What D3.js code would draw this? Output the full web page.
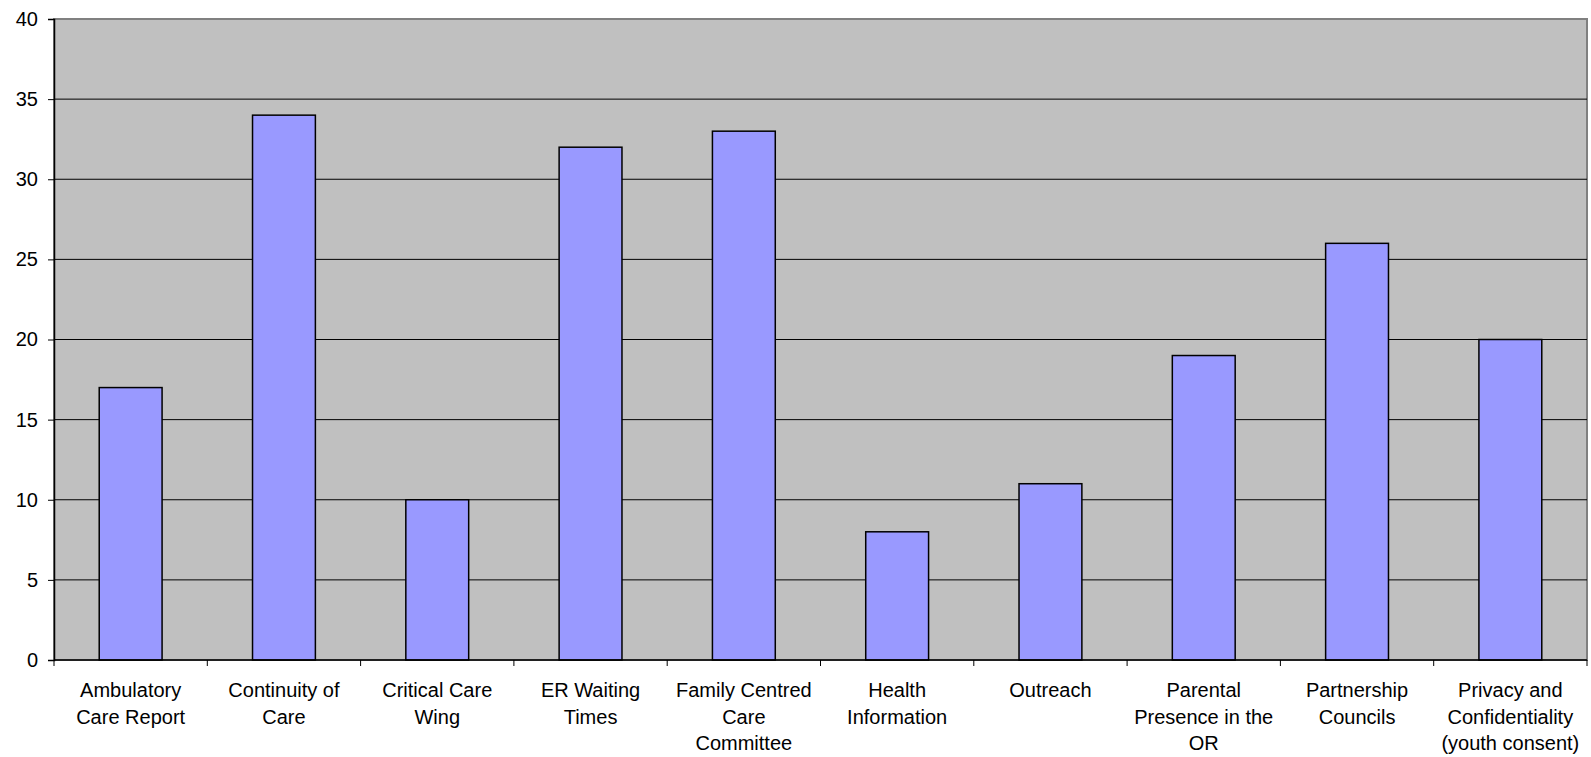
<!DOCTYPE html>
<html>
<head>
<meta charset="utf-8">
<script src="https://cdn.jsdelivr.net/npm/d3@7"></script>
<style>
  body { margin: 0; background: #fff; }
  svg { display: block; font-family: "Liberation Sans", Arial, sans-serif; }
</style>
</head>
<body>
<div id="chart"></div>
<script>
const width = 1591, height = 757;
const margin = { top: 19, right: 4, bottom: 97, left: 54 };

// data
const categories = [
    ["Ambulatory", "Care Report"],
    ["Continuity of", "Care"],
    ["Critical Care", "Wing"],
    ["ER Waiting", "Times"],
    ["Family Centred", "Care", "Committee"],
    ["Health", "Information"],
    ["Outreach"],
    ["Parental", "Presence in the", "OR"],
    ["Partnership", "Councils"],
    ["Privacy and", "Confidentiality", "(youth consent)"]
];
const values = [17, 34, 10, 32, 33, 8, 11, 19, 26, 20];
const yTicks = [0, 5, 10, 15, 20, 25, 30, 35, 40];

var svg = d3.select("#chart").append("svg")
    .attr("width", width)
    .attr("height", height);

const x0 = margin.left, x1 = width - margin.right;
const y0 = height - margin.bottom, y1 = margin.top;

var x = d3.scaleBand()
    .domain(d3.range(categories.length))
    .range([x0, x1])
    .paddingInner(0.59)
    .paddingOuter(0.295);

var y = d3.scaleLinear().domain([0, 40]).range([y0, y1]);

// plot background
svg.append("rect")
    .attr("x", x0).attr("y", y1)
    .attr("width", x1 - x0).attr("height", y0 - y1)
    .attr("fill", "#c0c0c0")
    .attr("stroke", "#808080")
    .attr("stroke-width", 2);

// gridlines
svg.selectAll(".grid")
    .data(yTicks.filter(d => d > 0 && d < 40))
    .enter()
    .append("line")
    .attr("class", "grid")
    .attr("x1", x0).attr("x2", x1)
    .attr("y1", d => y(d)).attr("y2", d => y(d))
    .attr("stroke", "#000")
    .attr("stroke-width", 1);

// bars
svg.selectAll(".bar")
    .data(values)
    .enter()
    .append("rect")
    .attr("class", "bar")
    .attr("x", (d, i) => x(i))
    .attr("y", d => y(d))
    .attr("width", x.bandwidth())
    .attr("height", d => y(0) - y(d))
    .attr("fill", "#9999ff")
    .attr("stroke", "#000")
    .attr("stroke-width", 1.5);

// y axis
var yAxis = d3.axisLeft(y).tickValues(yTicks).tickSize(6).tickPadding(10);
var gy = svg.append("g")
    .attr("transform", "translate(" + x0 + ",0)")
    .call(yAxis);
gy.select(".domain").attr("stroke", "#000").attr("stroke-width", 1.5);
gy.selectAll(".tick line").attr("stroke", "#000");
gy.selectAll("text")
    .attr("fill", "#000")
    .style("font-size", "20px")
    .style("font-family", "'Liberation Sans', Arial, sans-serif");

// x axis line + category boundary ticks
var step = x.step();
svg.append("line")
    .attr("x1", x0).attr("x2", x1)
    .attr("y1", y0).attr("y2", y0)
    .attr("stroke", "#000").attr("stroke-width", 1.5);

svg.selectAll(".xtick")
    .data(d3.range(categories.length + 1))
    .enter()
    .append("line")
    .attr("class", "xtick")
    .attr("x1", i => x0 + i * step).attr("x2", i => x0 + i * step)
    .attr("y1", y0).attr("y2", y0 + 6)
    .attr("stroke", "#000");

// category labels
var labels = svg.selectAll(".xlabel")
    .data(categories)
    .enter()
    .append("text")
    .attr("class", "xlabel")
    .attr("text-anchor", "middle")
    .attr("fill", "#000")
    .style("font-size", "20px");

labels.selectAll("tspan")
    .data((d, i) => d.map(t => ({ t: t, i: i })))
    .enter()
    .append("tspan")
    .attr("x", d => x(d.i) + x.bandwidth() / 2)
    .attr("y", (d, j) => 697 + j * 26.7)
    .text(d => d.t);
</script>
</body>
</html>
